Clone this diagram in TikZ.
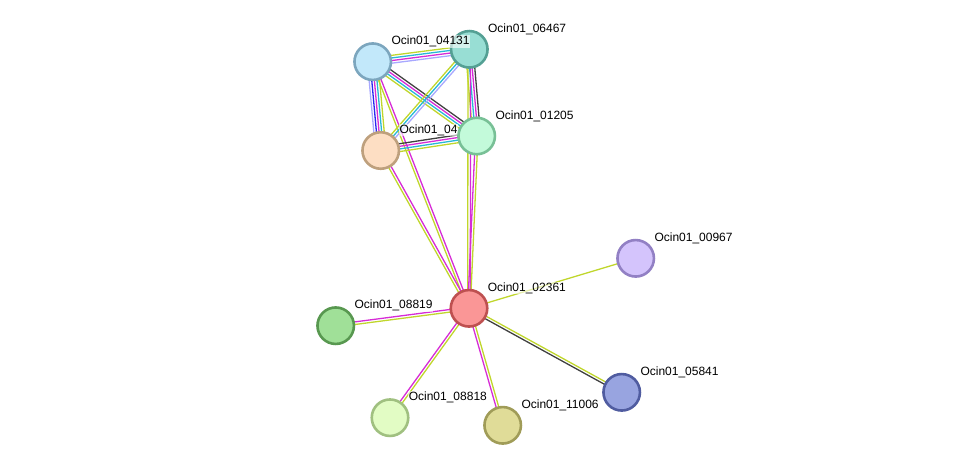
\documentclass[tikz,border=0pt]{standalone}
\usepackage{fontspec}
\setmainfont{Liberation Sans}
\usetikzlibrary{calc}
\pgfdeclarelayer{bg}
\pgfsetlayers{bg,main}
\definecolor{cyg}{RGB}{192,214,44}
\definecolor{cmag}{RGB}{214,44,214}
\definecolor{cblk}{RGB}{64,64,64}
\definecolor{ccyn}{RGB}{40,184,214}
\definecolor{clav}{RGB}{168,168,255}
\definecolor{cblu}{RGB}{40,40,240}
\tikzset{
  prot/.style={circle, minimum size=36.5pt, inner sep=0pt, line width=2.6pt},
  plabel/.style={anchor=base west, font=\fontsize{12}{12}\selectfont, inner sep=0.6pt,
    fill=white, fill opacity=0.6, text opacity=1},
}
\newcommand\bsp{2.6}
\newcommand\bundle[4]{%
  \foreach \bcol [count=\bi] in {#4}{%
    \pgfmathsetmacro\boff{((#3+1)/2-\bi)*\bsp}%
    \draw[line width=1.3pt, color=\bcol] ($(#1)!\boff pt!90:(#2)$) -- ($(#2)!\boff pt!-90:(#1)$);
  }}
\newcommand\prot[6]{%
  \definecolor{fill#1}{RGB}{#4}\definecolor{line#1}{RGB}{#5}%
  \node[prot, fill=fill#1, draw=line#1] (n#1) at (#2,#3) {};
  \node[plabel] (l#1) at ($(#2,#3)+(18,-17)$) {#6};
}
\begin{document}
\begin{tikzpicture}[x=1pt,y=-1pt]
\useasboundingbox (0,0) rectangle (976,471);
% nodes (drawing order matters for occlusion)
\prot{06467}{469.3}{49.3}{152,222,212}{84,160,148}{Ocin01\_06467}
\prot{04131}{372.7}{61.7}{194,232,250}{124,166,190}{Ocin01\_04131}
\prot{04xxx}{380.7}{150.5}{253,222,195}{190,160,125}{Ocin01\_04}
\prot{01205}{476.7}{136}{195,250,218}{120,192,150}{Ocin01\_01205}
\prot{02361}{469}{308.3}{250,150,150}{190,80,80}{Ocin01\_02361}
\prot{00967}{635.7}{258.3}{212,196,252}{146,128,196}{Ocin01\_00967}
\prot{08819}{335.7}{325.7}{160,224,152}{88,152,80}{Ocin01\_08819}
\prot{08818}{390}{417.7}{226,252,196}{160,192,128}{Ocin01\_08818}
\prot{11006}{502.7}{425.3}{224,220,152}{160,156,88}{Ocin01\_11006}
\prot{05841}{621.7}{392.3}{152,164,224}{80,92,160}{Ocin01\_05841}
% edges
\begin{pgfonlayer}{bg}
\bundle{n04131}{n06467}{4}{cyg,ccyn,cmag,clav}
\bundle{n04131}{n01205}{4}{cblk,cmag,ccyn,cyg}
\bundle{n04131}{n04xxx}{5}{cyg,ccyn,cmag,cblu,clav}
\bundle{n04131}{n02361}{2}{cmag,cyg}
\bundle{n04xxx}{n02361}{2}{cmag,cyg}
\bundle{n06467}{n04xxx}{3}{clav,ccyn,cyg}
\bundle{n06467}{n01205}{4}{cblk,cmag,ccyn,cyg}
\bundle{n04xxx}{n01205}{4}{cblk,cmag,ccyn,cyg}
\bundle{n06467}{n02361}{2}{cmag,cyg}
\bundle{n01205}{n02361}{2}{cyg,cmag}
\bundle{n02361}{n00967}{1}{cyg}
\bundle{n02361}{n08819}{2}{cyg,cmag}
\bundle{n02361}{n08818}{2}{cyg,cmag}
\bundle{n02361}{n11006}{2}{cyg,cmag}
\bundle{n02361}{n05841}{2}{cyg,cblk}
\end{pgfonlayer}
\end{tikzpicture}
\end{document}
